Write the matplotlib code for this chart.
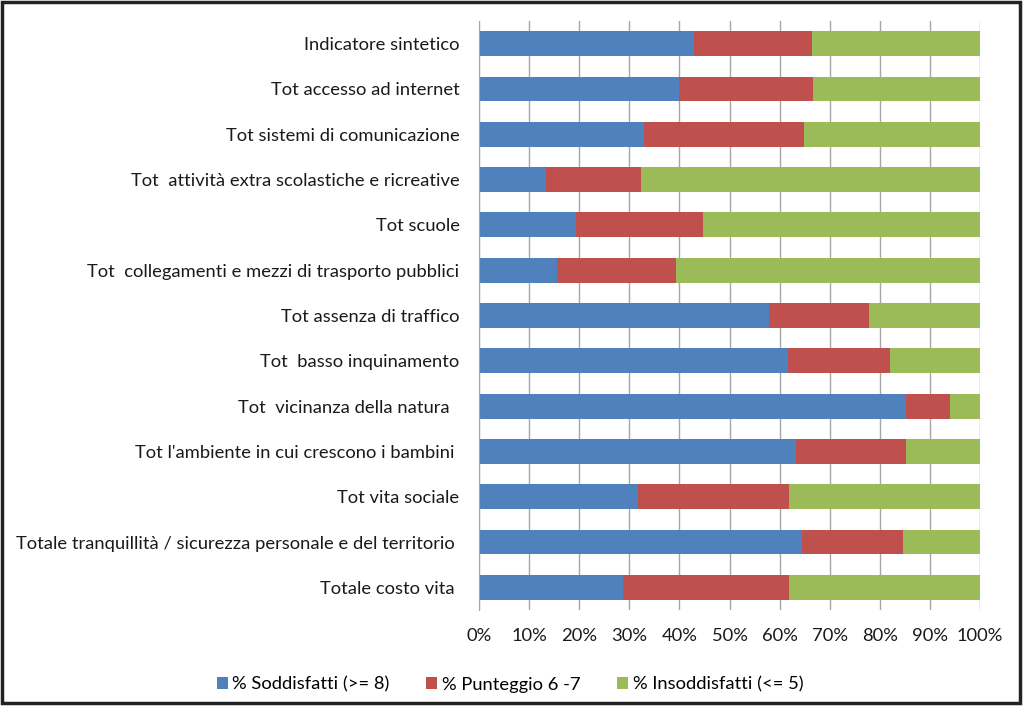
import matplotlib
matplotlib.use("Agg")
import matplotlib.pyplot as plt
from matplotlib.patches import Rectangle
from matplotlib.ticker import PercentFormatter

plt.rcParams["font.family"] = ["Lato", "DejaVu Sans"]

categories = [
    "Indicatore sintetico",
    "Tot accesso ad internet",
    "Tot sistemi di comunicazione",
    "Tot  attività extra scolastiche e ricreative",
    "Tot scuole",
    "Tot  collegamenti e mezzi di trasporto pubblici",
    "Tot assenza di traffico",
    "Tot  basso inquinamento",
    "Tot  vicinanza della natura  ",
    "Tot l'ambiente in cui crescono i bambini ",
    "Tot vita sociale",
    "Totale tranquillità / sicurezza personale e del territorio ",
    "Totale costo vita ",
]
soddisfatti = [43.0, 39.9, 32.9, 13.4, 19.4, 15.6, 57.9, 61.6, 85.3, 63.2, 31.7, 64.4, 28.7]
punteggio_6_7 = [23.5, 26.7, 32.0, 18.9, 25.3, 23.7, 19.9, 20.5, 8.7, 22.1, 30.2, 20.2, 33.2]
insoddisfatti = [100 - a - b for a, b in zip(soddisfatti, punteggio_6_7)]

series = [
    ("% Soddisfatti (>= 8)", soddisfatti, "#4F81BD"),
    ("% Punteggio 6 -7", punteggio_6_7, "#C0504D"),
    ("% Insoddisfatti (<= 5)", insoddisfatti, "#9BBB59"),
]

fig = plt.figure(figsize=(10.24, 7.06), dpi=100)
ax = fig.add_axes([479 / 1024, 1 - 610 / 706, 501 / 1024, 589 / 706])

ypos = list(range(len(categories)))
left = [0.0] * len(categories)
for name, vals, color in series:
    ax.barh(ypos, vals, left=left, height=0.55, color=color, label=name, zorder=2)
    left = [l + v for l, v in zip(left, vals)]

ax.set_xlim(0, 100)
ax.set_ylim(len(categories) - 0.5, -0.5)
ax.set_yticks(ypos)
ax.set_yticklabels(categories, fontsize=13.2, color="#1a1a1a")
ax.set_xticks(range(0, 101, 10))
ax.xaxis.set_major_formatter(PercentFormatter(decimals=0))
ax.tick_params(axis="y", length=0, pad=14)
ax.tick_params(axis="x", length=0, pad=13, labelsize=13.2, labelcolor="#1a1a1a")
ax.grid(axis="x", color="#a6a6a6", linewidth=1.0, zorder=0)
for side in ["top", "right", "bottom"]:
    ax.spines[side].set_visible(False)
ax.spines["left"].set_color("#a6a6a6")

ax.legend(loc="upper center", bbox_to_anchor=(510 / 1024, 1 - 660 / 706),
          bbox_transform=fig.transFigure, ncol=3, frameon=False,
          fontsize=13.2, handlelength=0.6, handleheight=0.6,
          handletextpad=0.25, columnspacing=2.0)

fig.patches.append(Rectangle((0.002, 0.004), 0.994, 0.993, transform=fig.transFigure,
                             fill=False, edgecolor="#222222", linewidth=2.5))

fig.savefig("out.png", dpi=100)
